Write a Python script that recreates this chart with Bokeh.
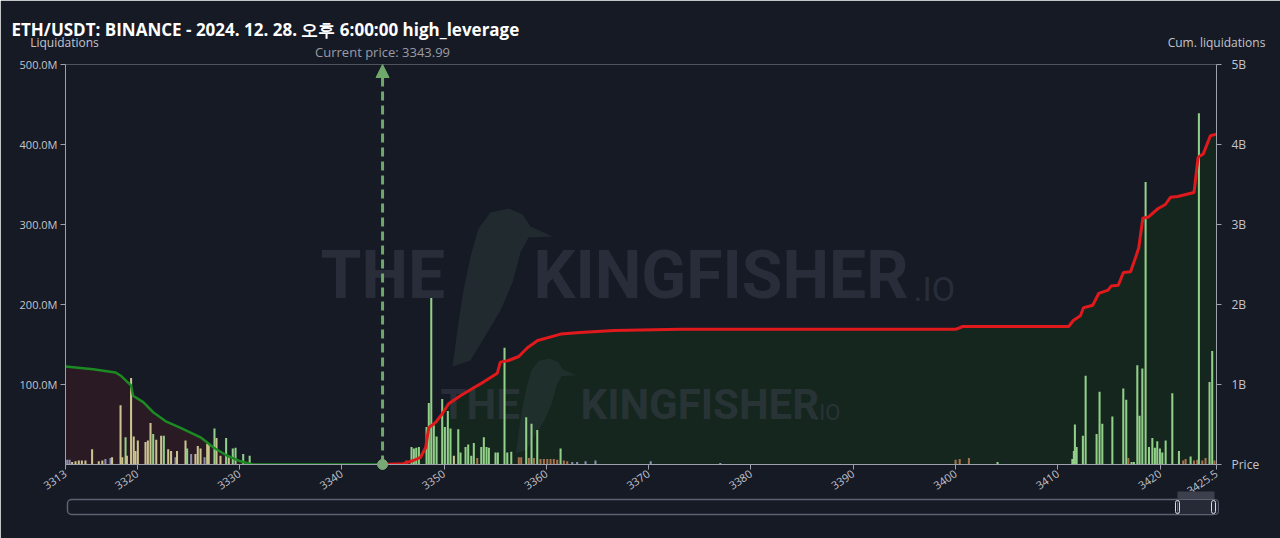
import numpy as np
from bokeh.plotting import figure
from bokeh.layouts import column
from bokeh.models import (Range1d, LinearAxis, FixedTicker, Label, Arrow, NormalHead,
                          BoxAnnotation, ColumnDataSource)
from bokeh.transform import factor_cmap
from bokeh.embed import file_html
from bokeh.resources import INLINE

# ---------------- data ----------------
title_text = "ETH/USDT: BINANCE - 2024. 12. 28. 오후 6:00:00 high_leverage"
current_price = 3343.99
price_min, price_max = 3313, 3425.5

x_ticks = [3313, 3320, 3330, 3340, 3350, 3360, 3370, 3380, 3390, 3400, 3410, 3420, 3425.5]
x_tick_labels = ["3313", "3320", "3330", "3340", "3350", "3360", "3370", "3380",
                 "3390", "3400", "3410", "3420", "3425.5"]
left_ticks = [100, 200, 300, 400, 500]
left_tick_labels = ["100.0M", "200.0M", "300.0M", "400.0M", "500.0M"]
right_ticks = [0, 1, 2, 3, 4, 5]
right_tick_labels = ["Price", "1B", "2B", "3B", "4B", "5B"]

tiers = ["100x", "50x", "25x", "10x"]

# liquidation bars (price, value in millions, leverage tier)
bar_price = [
    3313.17, 3313.4, 3313.65, 3313.98, 3314.3, 3314.6, 3314.95, 3315.6, 3316.25, 3316.6,
    3316.9, 3317.4, 3317.55, 3318.38, 3318.55, 3318.87, 3319.0, 3319.41, 3319.67, 3319.84,
    3320.07, 3320.82, 3321.05, 3321.31, 3321.57, 3321.87, 3322.35, 3322.61, 3323.04, 3323.32,
    3323.75, 3323.9, 3324.73, 3324.89, 3325.28, 3325.7, 3325.93, 3326.2, 3326.59, 3326.85,
    3327.0, 3327.56, 3327.76, 3328.15, 3328.7, 3328.96, 3329.35, 3329.62, 3330.37, 3331.0,
    3346.33, 3346.82, 3347.05, 3347.28, 3347.54, 3348.29, 3348.51, 3348.75, 3349.0, 3349.27,
    3349.82, 3350.08, 3350.37, 3350.63, 3350.96, 3351.39, 3351.61, 3352.1, 3352.36, 3352.66,
    3352.91, 3353.24, 3353.64, 3353.89, 3354.15, 3354.38, 3355.03, 3355.26, 3355.91, 3356.18,
    3356.57, 3357.31, 3357.54, 3358.03, 3358.29, 3358.55, 3358.78, 3359.11, 3359.43, 3359.76,
    3360.09, 3360.41, 3360.73, 3361.06, 3361.39, 3361.71, 3362.04, 3362.53, 3363.01, 3363.83,
    3364.8, 3370.2, 3377.0, 3400.0, 3400.4, 3401.3, 3404.1,
    3411.41, 3411.56, 3411.66, 3411.83, 3412.44, 3412.71, 3413.78, 3414.07, 3414.34, 3415.32,
    3416.39, 3416.68, 3416.88, 3417.2, 3417.43, 3417.76, 3417.98, 3418.25, 3418.57, 3418.9,
    3419.23, 3419.48, 3419.71, 3419.97, 3420.2, 3420.53, 3421.18, 3421.83, 3422.25, 3422.48,
    3422.97, 3423.3, 3423.62, 3423.78, 3424.11, 3424.43, 3424.82, 3425.08, 3425.3,
]
bar_value = [
    6, 6, 3, 4, 5, 5, 5, 19, 4, 5,
    7, 8, 9, 74, 9, 34, 11, 108, 35, 17,
    30, 28, 30, 52, 38, 31, 36, 36, 19, 17,
    9, 17, 30, 20, 13, 13, 23, 20, 9, 26,
    24, 45, 33, 11, 33, 9, 20, 21, 13, 11,
    5, 22, 20, 21, 22, 47, 77, 208, 49, 35,
    82, 47, 67, 45, 11, 44, 15, 22, 25, 11,
    27, 8, 22, 34, 22, 21, 15, 15, 146, 15,
    16, 9, 9, 59, 8, 51, 8, 43, 7, 7,
    7, 7, 7, 6, 20, 5, 4, 3, 3, 4,
    5, 4, 2, 6, 7, 8, 3,
    7, 17, 50, 22, 36, 111, 38, 91, 51, 60,
    95, 81, 8, 3, 3, 124, 61, 120, 353, 22,
    33, 21, 29, 20, 15, 30, 89, 17, 5, 7,
    10, 5, 6, 439, 5, 8, 103, 142, 5,
]
bar_tier = [
    "25x", "25x", "50x", "50x", "50x", "50x", "50x", "50x", "50x", "50x",
    "25x", "25x", "50x", "50x", "50x", "100x", "50x", "50x", "50x", "50x",
    "50x", "50x", "50x", "50x", "100x", "50x", "50x", "100x", "50x", "50x",
    "25x", "50x", "50x", "100x", "25x", "50x", "50x", "50x", "25x", "50x",
    "50x", "100x", "50x", "50x", "100x", "50x", "100x", "100x", "100x", "100x",
    "10x", "100x", "100x", "100x", "100x", "100x", "100x", "100x", "100x", "100x",
    "100x", "100x", "100x", "100x", "50x", "100x", "100x", "100x", "100x", "100x",
    "100x", "10x", "100x", "100x", "100x", "100x", "100x", "100x", "100x", "100x",
    "100x", "10x", "10x", "100x", "10x", "100x", "10x", "100x", "10x", "10x",
    "10x", "10x", "10x", "10x", "100x", "10x", "10x", "25x", "25x", "25x",
    "25x", "25x", "25x", "10x", "10x", "10x", "100x",
    "100x", "100x", "100x", "100x", "100x", "100x", "100x", "100x", "100x", "100x",
    "100x", "100x", "10x", "100x", "100x", "100x", "100x", "100x", "100x", "100x",
    "100x", "100x", "100x", "100x", "100x", "100x", "100x", "100x", "10x", "10x",
    "100x", "10x", "10x", "100x", "10x", "10x", "100x", "100x", "10x",
]

# cumulative liquidations below the current price (billions)
short_cum_price = [3313.0, 3315.7, 3317.9, 3318.4, 3319.4, 3319.6, 3320.6, 3321.6, 3322.8,
                   3324.2, 3326.2, 3327.5, 3328.8, 3330.1, 3331.3, 3343.99]
short_cum_value = [1.225, 1.19, 1.15, 1.11, 0.99, 0.86, 0.78, 0.65, 0.54,
                   0.46, 0.34, 0.21, 0.11, 0.04, 0.0, 0.0]

# cumulative liquidations above the current price (billions)
long_cum_price = [3343.99, 3346.0, 3347.0, 3347.7, 3348.2, 3348.5, 3349.2, 3349.85, 3350.45,
                  3351.6, 3352.9, 3353.85, 3355.2, 3355.5, 3356.3, 3357.3, 3358.15, 3359.15,
                  3361.4, 3363.3, 3366.6, 3373.1, 3400.0, 3400.7, 3411.05, 3411.5, 3412.2,
                  3412.5, 3413.4, 3414.0, 3414.9, 3415.2, 3415.9, 3416.4, 3417.1, 3417.6,
                  3417.9, 3418.3, 3418.8, 3419.8, 3420.5, 3421.0, 3421.7, 3423.3, 3423.7,
                  3424.2, 3424.9, 3425.5]
long_cum_value = [0.0, 0.01, 0.05, 0.09, 0.21, 0.46, 0.53, 0.64, 0.76,
                  0.86, 0.96, 1.03, 1.14, 1.28, 1.30, 1.35, 1.46, 1.55,
                  1.63, 1.65, 1.675, 1.69, 1.69, 1.725, 1.725, 1.80, 1.86,
                  1.96, 1.99, 2.14, 2.18, 2.23, 2.24, 2.40, 2.41, 2.59,
                  2.71, 3.08, 3.09, 3.20, 3.25, 3.34, 3.35, 3.40, 3.84,
                  3.88, 4.11, 4.13]

# ---------------- style / geometry ----------------
W, H = 1280, 538
FL, FT, FW, FH = 65, 64, 1151, 400          # frame left/top/width/height (px)
BG = "#161a25"
AXIS = "#9ea1ad"
TICK_TXT = "#c3c5ce"
FONT = "Open Sans"
tier_colors = ["#92cf88", "#cbc48f", "#8a8fb0", "#a8704c"]

p = figure(width=W, height=H, frame_width=FW, frame_height=FH,
           min_border_left=FL, min_border_right=W - FL - FW,
           min_border_top=FT, min_border_bottom=H - FT - FH,
           x_range=Range1d(price_min, price_max), y_range=Range1d(0, 500),
           output_backend="svg", toolbar_location=None,
           background_fill_color=BG, border_fill_color=BG, outline_line_color=None)
p.extra_y_ranges = {"cum": Range1d(0, 5)}
p.grid.visible = False

xa = p.xaxis[0]
xa.ticker = FixedTicker(ticks=x_ticks)
xa.major_label_overrides = dict(zip(x_ticks, x_tick_labels))
xa.major_label_orientation = 0.6
ya = p.yaxis[0]
ya.ticker = FixedTicker(ticks=left_ticks)
ya.major_label_overrides = dict(zip(left_ticks, left_tick_labels))
ra = LinearAxis(y_range_name="cum", ticker=FixedTicker(ticks=right_ticks),
                major_label_overrides=dict(zip(right_ticks, right_tick_labels)))
p.add_layout(ra, "right")
for ax in (xa, ya, ra):
    ax.axis_line_color = AXIS
    ax.major_tick_line_color = AXIS
    ax.minor_tick_line_color = None
    ax.major_tick_out = 5
    ax.major_tick_in = 0
    ax.major_label_text_color = TICK_TXT
    ax.major_label_text_font = FONT
    ax.major_label_text_font_size = "11px"
    ax.major_label_standoff = 3
ra.major_label_standoff = 10
ra.major_label_text_font_size = "12px"

# cumulative fills (background)
p.varea(x=short_cum_price, y1=0, y2=short_cum_value, y_range_name="cum",
        fill_color="#2a1a24", level="image")
p.varea(x=long_cum_price, y1=0, y2=long_cum_value, y_range_name="cum",
        fill_color="#15261f", level="image")

# watermark (frame-relative screen px)
wm_kw = dict(x_units="screen", y_units="screen", text_font="Roboto",
             text_color="#3c404e", text_alpha=0.5, text_baseline="middle", level="underlay")
for txt, x, y, size, style in [("THE", 255, 189, "66px", "bold"),
                               ("KINGFISHER", 468, 189, "66px", "bold"),
                               (".IO", 848, 176, "34px", "normal"),
                               ("THE", 375, 60, "42px", "bold"),
                               ("KINGFISHER", 515, 60, "42px", "bold"),
                               (".IO", 748, 52, "22px", "normal")]:
    p.add_layout(Label(x=x, y=y, text=txt, text_font_size=size, text_font_style=style, **wm_kw))

# watermark bird silhouette (page px outline, mapped into the frame's scales)
bird_px_x = np.array([490, 508, 522, 530, 552, 528, 520, 512, 500, 485, 470, 452, 458, 463, 470, 478])
bird_px_y = np.array([212, 208, 214, 226, 236, 237, 252, 282, 310, 335, 360, 366, 322, 290, 256, 228])
px_per_price = FW / (price_max - price_min)
px_per_val = FH / 500
for sx, sy, k in [(0, 0, 1.0), (549 - 508 * 0.6, 358 - 208 * 0.6, 0.6)]:
    bx = (bird_px_x * k + sx) if k != 1.0 else bird_px_x
    by = (bird_px_y * k + sy) if k != 1.0 else bird_px_y
    p.patch(list(price_min + (bx - FL) / px_per_price), list((FT + FH - by) / px_per_val),
            fill_color="#2c3d3c", fill_alpha=0.45, line_color=None, level="underlay")

# bars
src = ColumnDataSource(dict(price=bar_price, val=bar_value, tier=bar_tier))
p.vbar(x="price", top="val", width=0.2, source=src, line_color=None,
       fill_color=factor_cmap("tier", tier_colors, tiers))

# cumulative lines
p.line(short_cum_price, short_cum_value, y_range_name="cum", line_color="#1c8a22", line_width=2.5)
p.line(long_cum_price, long_cum_value, y_range_name="cum", line_color="#e0191c", line_width=3)

# current price arrow
CP = "#6fa86b"
p.add_layout(Arrow(end=NormalHead(size=13, fill_color=CP, line_color=CP),
                   x_start=current_price, y_start=0, x_end=current_price, y_end=500,
                   line_color=CP, line_width=3, line_dash="9 5"))

# ---------------- overlay for texts outside the frame (pixel coordinates) ----------------
o = figure(width=W, height=H, x_range=Range1d(0, W), y_range=Range1d(H, 0),
           x_axis_type=None, y_axis_type=None, output_backend="svg", toolbar_location=None,
           min_border=0, min_border_left=0, min_border_right=0, min_border_top=0,
           min_border_bottom=0, outline_line_color=None,
           background_fill_alpha=0, border_fill_alpha=0)
o.grid.visible = False
o.margin = (-H, 0, 0, 0)
aligned = True
try:
    o.frame_align = False
    p.frame_align = False
    aligned = False
except Exception:
    pass
if aligned:
    o.x_range = Range1d(FL, FL + FW)

cp_px = FL + (current_price - price_min) * FW / (price_max - price_min)
o.scatter([cp_px], [FT + FH], size=10, color="#7aa875")

lab = dict(text_font=FONT, text_baseline="middle")
o.add_layout(Label(x=11, y=29, text=title_text, text_font_size="17px", text_font_style="bold",
                   text_color="#ffffff", **lab))
o.add_layout(Label(x=FL - 1, y=42, text="Liquidations", text_font_size="12px",
                   text_color=TICK_TXT, text_align="center", **lab))
o.add_layout(Label(x=FL + FW, y=42, text="Cum. liquidations", text_font_size="12px",
                   text_color=TICK_TXT, text_align="center", **lab))
o.add_layout(Label(x=cp_px, y=51, text="Current price: " + f"{current_price:.2f}",
                   text_font_size="13px", text_color="#9a9ca6", text_align="center", **lab))

# scrollbar
o.add_layout(BoxAnnotation(left=67, right=1217, top=499, bottom=514, fill_alpha=0,
                           line_color="#5d6170", line_width=1.5, line_alpha=1, border_radius=4))
o.add_layout(BoxAnnotation(left=1177, right=1214, top=491, bottom=499, fill_color="#3c404c",
                           fill_alpha=1, line_color=None))
o.add_layout(BoxAnnotation(left=1177, right=1218, top=499, bottom=514, fill_color="#262a36",
                           fill_alpha=1, line_color="#5d6170", line_width=1, line_alpha=1,
                           border_radius=3))
o.add_layout(BoxAnnotation(left=1175, right=1179, top=500, bottom=513, fill_alpha=0,
                           line_color="#d8dae0", line_width=1, line_alpha=1, border_radius=2))
o.add_layout(BoxAnnotation(left=1211, right=1215, top=500, bottom=513, fill_alpha=0,
                           line_color="#d8dae0", line_width=1, line_alpha=1, border_radius=2))

layout = column(p, o)
open("out.html", "w").write(file_html(layout, INLINE))
